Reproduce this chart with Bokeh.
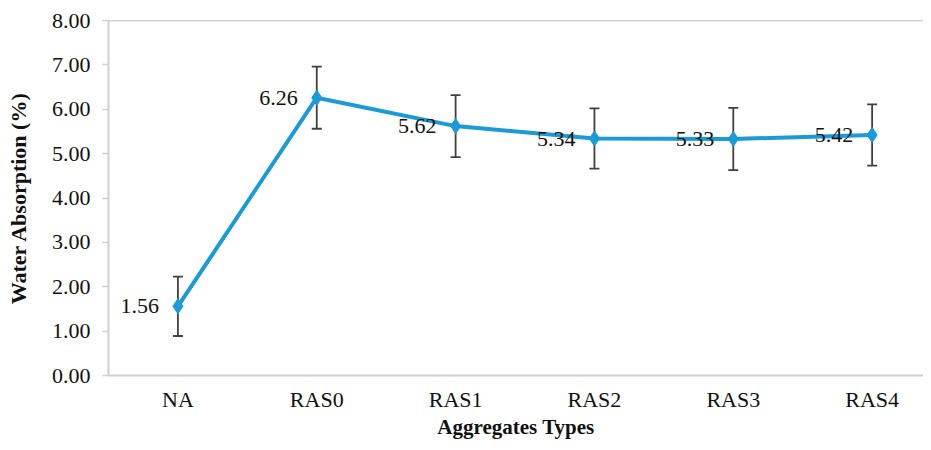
from bokeh.plotting import figure
from bokeh.models import Range1d, FixedTicker, NumeralTickFormatter, ColumnDataSource, Whisker, Span, LabelSet
from bokeh.embed import file_html
from bokeh.resources import INLINE

categories = ["NA", "RAS0", "RAS1", "RAS2", "RAS3", "RAS4"]
values = [1.56, 6.26, 5.62, 5.34, 5.33, 5.42]
errors = [0.67, 0.70, 0.70, 0.68, 0.70, 0.69]
value_labels = ["1.56", "6.26", "5.62", "5.34", "5.33", "5.42"]
y_ticks = [0, 1, 2, 3, 4, 5, 6, 7, 8]
x_title = "Aggregates Types"
y_title = "Water Absorption (%)"

xpos = [i + 0.5 for i in range(len(categories))]
src = ColumnDataSource(dict(
    x=xpos, y=values,
    lower=[v - e for v, e in zip(values, errors)],
    upper=[v + e for v, e in zip(values, errors)],
    lab=value_labels,
))

FONT = "Liberation Serif"
BLUE = "#1a9ad6"

p = figure(width=923, height=442, output_backend="svg", toolbar_location=None,
           x_range=Range1d(0, 5.87), y_range=Range1d(0, 8),
           min_border_left=108, min_border_right=0, min_border_top=20, min_border_bottom=67)
p.outline_line_color = None
p.grid.visible = False
p.background_fill_color = "white"
p.border_fill_color = "white"

# top border line
p.add_layout(Span(location=8, dimension="width", line_color="#a6a6a6", line_width=1.5))

# error bars
w = Whisker(source=src, base="x", lower="lower", upper="upper",
            line_color="#404040", line_width=1.8)
w.upper_head.size = 10
w.lower_head.size = 10
w.upper_head.line_color = "#404040"
w.lower_head.line_color = "#404040"
w.upper_head.line_width = 1.8
w.lower_head.line_width = 1.8
p.add_layout(w)

p.line("x", "y", source=src, line_color=BLUE, line_width=4)
p.scatter("x", "y", source=src, marker="diamond", size=15, fill_color=BLUE, line_color=BLUE)

labels = LabelSet(x="x", y="y", text="lab", source=src, x_offset=-19, y_offset=0,
                  text_align="right", text_baseline="middle",
                  text_font=FONT, text_font_size="22px", text_color="#111111")
p.add_layout(labels)

# x axis
xa = p.xaxis[0]
xa.ticker = FixedTicker(ticks=xpos)
xa.major_label_overrides = {x: c for x, c in zip(xpos, categories)}
xa.major_tick_out = 0
xa.major_tick_in = 0
xa.minor_tick_out = 0
xa.minor_tick_in = 0
xa.axis_line_color = "#d0d0d0"
xa.axis_line_width = 2
xa.major_label_standoff = 11
xa.major_label_text_font = FONT
xa.major_label_text_font_size = "22px"
xa.major_label_text_color = "#111111"
xa.axis_label = x_title
xa.axis_label_text_font = FONT
xa.axis_label_text_font_size = "21px"
xa.axis_label_text_font_style = "bold"
xa.axis_label_text_color = "#111111"
xa.axis_label_standoff = 0

# y axis
ya = p.yaxis[0]
ya.ticker = FixedTicker(ticks=y_ticks)
ya.formatter = NumeralTickFormatter(format="0.00")
ya.major_tick_out = 6
ya.major_tick_in = 0
ya.minor_tick_out = 0
ya.minor_tick_in = 0
ya.major_tick_line_color = "#d0d0d0"
ya.major_tick_line_width = 1.5
ya.axis_line_color = "#d0d0d0"
ya.axis_line_width = 2
ya.major_label_standoff = 12
ya.major_label_text_font = FONT
ya.major_label_text_font_size = "22px"
ya.major_label_text_color = "#111111"
ya.axis_label = y_title
ya.axis_label_text_font = FONT
ya.axis_label_text_font_size = "22px"
ya.axis_label_text_font_style = "bold"
ya.axis_label_text_color = "#111111"
ya.axis_label_standoff = 18

open("out.html", "w").write(file_html(p, INLINE))
